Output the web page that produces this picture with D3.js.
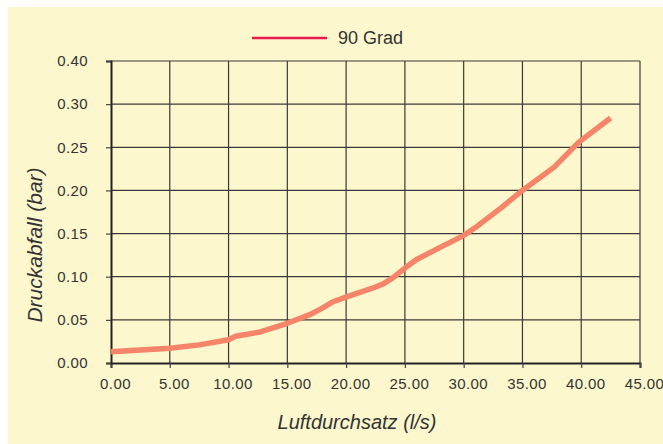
<!DOCTYPE html>
<html>
<head>
<meta charset="utf-8">
<script src="https://cdn.jsdelivr.net/npm/d3@7"></script>
<style>
  body { margin: 0; background: #fff; }
  svg text { font-family: "Liberation Sans", Arial, sans-serif; fill: #333; }
</style>
</head>
<body>
<svg id="chart" width="663" height="444"></svg>
<script>
// Luftdurchsatz (l/s) vs Druckabfall (bar)
const flow = [0, 2.5, 5, 7.5, 10, 10.6, 12.7, 15, 16.9, 17.9, 18.9, 20.1, 22.3, 23.2, 24, 25, 26, 28, 29.9, 31.1, 33.3, 35, 37.7, 39.8, 42.5];
const pressure = [0.013, 0.015, 0.017, 0.021, 0.027, 0.031, 0.036, 0.046, 0.056, 0.063, 0.071, 0.077, 0.087, 0.092, 0.099, 0.110, 0.120, 0.134, 0.147, 0.158, 0.181, 0.200, 0.227, 0.256, 0.284];

const xTicks = [0, 5, 10, 15, 20, 25, 30, 35, 40, 45];
const xTickLabels = ["0.00", "5.00", "10.00", "15.00", "20.00", "25.00", "30.00", "35.00", "40.00", "45.00"];
// the original labels its top gridline "0.40" although it sits where 0.35 would be
const yTicks = [0, 0.05, 0.10, 0.15, 0.20, 0.25, 0.30, 0.35];
const yTickLabels = ["0.00", "0.05", "0.10", "0.15", "0.20", "0.25", "0.30", "0.40"];

const seriesName = "90 Grad";

function drawChart() {
  const svg = d3.select("#chart");
  const margin = {left: 111, right: 23, top: 61, bottom: 81};
  const W = 663, H = 444;

  // yellow panel
  svg.append("rect")
    .attr("x", 8).attr("y", 7)
    .attr("width", W - 8).attr("height", H - 7)
    .attr("fill", "#fcf7cc");

  const x = d3.scaleLinear().domain([0, 45]).range([margin.left, W - margin.right]);
  const y = d3.scaleLinear().domain([0, 0.35]).range([H - margin.bottom, margin.top]);

  // grid
  svg.append("g").selectAll("line")
    .data(xTicks.slice(1))
    .enter().append("line")
    .attr("x1", d => x(d)).attr("x2", d => x(d))
    .attr("y1", y(0)).attr("y2", y(0.35))
    .attr("stroke", "#3a3a3a").attr("stroke-width", 1.2);
  svg.append("g").selectAll("line")
    .data(yTicks.slice(1))
    .enter().append("line")
    .attr("x1", x(0)).attr("x2", x(45))
    .attr("y1", d => y(d)).attr("y2", d => y(d))
    .attr("stroke", "#3a3a3a").attr("stroke-width", 1.2);

  // axes
  const xAxis = d3.axisBottom(x)
    .tickValues(xTicks)
    .tickFormat((d, i) => xTickLabels[i])
    .tickSize(5).tickPadding(10);
  const gx = svg.append("g").attr("transform", `translate(0,${y(0)})`).call(xAxis);

  const yAxis = d3.axisLeft(y)
    .tickValues(yTicks)
    .tickFormat((d, i) => yTickLabels[i])
    .tickSize(5).tickPadding(18);
  const gy = svg.append("g").attr("transform", `translate(${x(0)},0)`).call(yAxis);

  [gx, gy].forEach(g => {
    g.select(".domain").attr("stroke", "#222").attr("stroke-width", 2);
    g.selectAll(".tick line").attr("stroke", "#444").attr("stroke-width", 1.2);
    g.selectAll(".tick text")
      .attr("font-family", "Liberation Sans, Arial, sans-serif")
      .attr("font-size", 15)
      .attr("letter-spacing", "0.4px")
      .attr("fill", "#333");
  });
  gx.selectAll(".tick text").attr("dx", 4);

  // curve
  const line = d3.line()
    .x((d, i) => x(flow[i]))
    .y(d => y(d));
  svg.append("path")
    .datum(pressure)
    .attr("d", line)
    .attr("fill", "none")
    .attr("stroke", "#f58468")
    .attr("stroke-width", 5.5)
    .attr("stroke-linejoin", "round");

  // legend
  svg.append("line")
    .attr("x1", 252).attr("x2", 327)
    .attr("y1", 38).attr("y2", 38)
    .attr("stroke", "#e8194b").attr("stroke-width", 2.5);
  svg.append("text")
    .attr("x", 338).attr("y", 44)
    .attr("font-size", 18)
    .text(seriesName);

  // axis titles
  svg.append("text")
    .attr("x", 357).attr("y", 429)
    .attr("text-anchor", "middle")
    .attr("font-size", 20)
    .attr("font-style", "italic")
    .text("Luftdurchsatz (l/s)");
  svg.append("text")
    .attr("transform", "translate(42,245) rotate(-90)")
    .attr("text-anchor", "middle")
    .attr("font-size", 21)
    .attr("font-style", "italic")
    .text("Druckabfall (bar)");
}

window.addEventListener("DOMContentLoaded", drawChart);
</script>
</body>
</html>
